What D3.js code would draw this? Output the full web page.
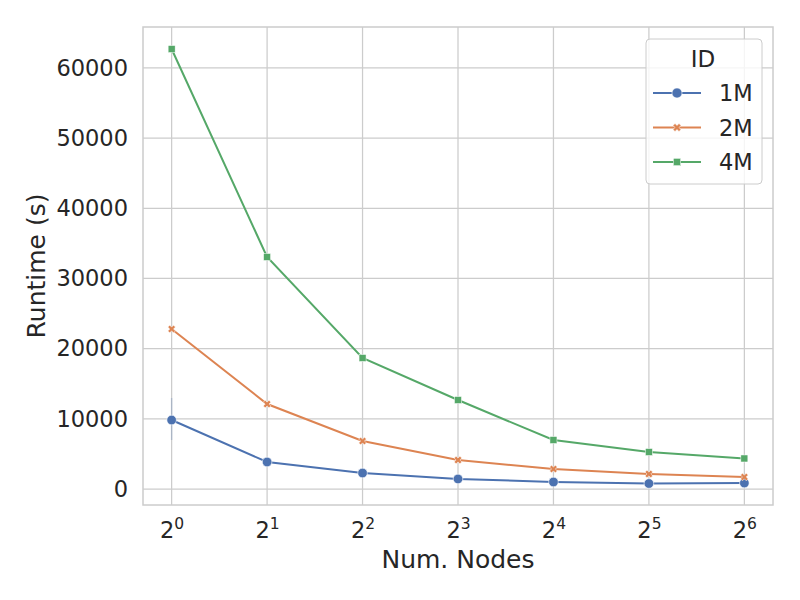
<!DOCTYPE html>
<html>
<head>
<meta charset="utf-8">
<script src="https://cdn.jsdelivr.net/npm/d3@7"></script>
<style>
  body { margin: 0; background: #fff; }
  text { font-family: "DejaVu Sans", sans-serif; fill: #262626; }
</style>
</head>
<body>
<div id="chart"></div>
<script>
// data
const exponents = [0, 1, 2, 3, 4, 5, 6];
const seriesNames = ["1M", "2M", "4M"];
const runtime1M = [9830, 3850, 2280, 1430, 1000, 780, 850];
const runtime2M = [22800, 12110, 6840, 4130, 2850, 2140, 1710];
const runtime4M = [62700, 33060, 18670, 12680, 6980, 5270, 4350];
// error bar on 1M at 2^0 (others too small to see)
const err1MLow = [6980, 3850, 2280, 1430, 1000, 780, 850];
const err1MHigh = [12970, 3850, 2280, 1430, 1000, 780, 850];
const yTicks = [0, 10000, 20000, 30000, 40000, 50000, 60000];

const colors = ["#4c72b0", "#dd8452", "#55a868"];
const values = [runtime1M, runtime2M, runtime4M];

const W = 800, H = 600;
const margin = { TOP: 27, BOTTOM: 95, LEFT: 143, RIGHT: 27 };
const w = W - margin.LEFT - margin.RIGHT;
const h = H - margin.TOP - margin.BOTTOM;

const svg = d3.select("#chart").append("svg")
  .attr("width", W).attr("height", H);

const g = svg.append("g")
  .attr("transform", `translate(${margin.LEFT}, ${margin.TOP})`);

const x = d3.scaleLinear().domain([-0.3, 6.3]).range([0, w]);
const y = d3.scaleLinear().domain([-2280, 65840]).range([h, 0]);

//grid
g.selectAll(".xgrid").data(exponents).enter().append("line")
  .attr("x1", d => x(d)).attr("x2", d => x(d))
  .attr("y1", 0).attr("y2", h)
  .attr("stroke", "#cccccc").attr("stroke-width", 1.25);
g.selectAll(".ygrid").data(yTicks).enter().append("line")
  .attr("x1", 0).attr("x2", w)
  .attr("y1", d => y(d)).attr("y2", d => y(d))
  .attr("stroke", "#cccccc").attr("stroke-width", 1.25);

//frame
g.append("rect").attr("width", w).attr("height", h)
  .attr("fill", "none").attr("stroke", "#cccccc").attr("stroke-width", 1.5);

//axes text
const yAxis = g.append("g").call(d3.axisLeft(y).tickValues(yTicks).tickSize(0).tickPadding(15).tickFormat(d3.format("d")));
yAxis.select(".domain").remove();
yAxis.selectAll("text").style("font-size", "22.5px").attr("fill", "#262626")
  .style("font-family", "DejaVu Sans");

const xAxis = g.append("g").attr("transform", `translate(0, ${h})`)
  .call(d3.axisBottom(x).tickValues(exponents).tickSize(0).tickPadding(14).tickFormat(""));
xAxis.select(".domain").remove();
xAxis.selectAll(".tick").each(function(d) {
  const t = d3.select(this).append("text")
    .attr("y", 33).attr("text-anchor", "middle")
    .style("font-size", "22.5px");
  t.append("tspan").text("2");
  t.append("tspan").attr("dy", -9.5).style("font-size", "15.5px").text(d);
});

svg.append("text")
  .attr("x", margin.LEFT + w / 2).attr("y", 568)
  .attr("text-anchor", "middle").style("font-size", "25px")
  .text("Num. Nodes");
svg.append("text")
  .attr("transform", `translate(45, ${margin.TOP + h / 2}) rotate(-90)`)
  .attr("text-anchor", "middle").style("font-size", "25px")
  .text("Runtime (s)");

//error bar
g.selectAll(".err").data(exponents.filter((d, i) => err1MHigh[i] - err1MLow[i] > 100))
  .enter().append("line")
  .attr("x1", d => x(d)).attr("x2", d => x(d))
  .attr("y1", d => y(err1MLow[exponents.indexOf(d)]))
  .attr("y2", d => y(err1MHigh[exponents.indexOf(d)]))
  .attr("stroke", colors[0]).attr("stroke-width", 1.5).attr("opacity", 0.25);

//lines
const line = d3.line().x((d, i) => x(exponents[i])).y(d => y(d));
values.forEach((vals, k) => {
  g.append("path").datum(vals)
    .attr("d", line)
    .attr("fill", "none").attr("stroke", colors[k]).attr("stroke-width", 2);
});

//markers
function marker(sel, k, scale) {
  if (k === 0) {
    sel.append("circle").attr("r", 4.8 * scale)
      .attr("fill", colors[0]).attr("stroke", "#fff").attr("stroke-width", 0.6);
  } else if (k === 1) {
    sel.append("path").attr("d", d3.symbol(d3.symbolCross, 36 * scale * scale)())
      .attr("transform", "rotate(45)")
      .attr("fill", colors[1]).attr("stroke", "#fff").attr("stroke-width", 0.5);
  } else {
    sel.append("rect").attr("x", -3.5 * scale).attr("y", -3.5 * scale)
      .attr("width", 7 * scale).attr("height", 7 * scale)
      .attr("fill", colors[2]).attr("stroke", "#fff").attr("stroke-width", 0.5);
  }
}
values.forEach((vals, k) => {
  g.selectAll(".m" + k).data(vals).enter().append("g")
    .attr("transform", (d, i) => `translate(${x(exponents[i])}, ${y(d)})`)
    .each(function() { marker(d3.select(this), k, 1); });
});

//legend
const lg = svg.append("g").attr("transform", "translate(646, 39)");
lg.append("rect").attr("width", 116).attr("height", 145).attr("rx", 4)
  .attr("fill", "#fff").attr("fill-opacity", 0.8)
  .attr("stroke", "#cccccc").attr("stroke-width", 1);
lg.append("text").attr("x", 57).attr("y", 28).attr("text-anchor", "middle")
  .style("font-size", "23px").text("ID");
seriesNames.forEach((name, k) => {
  const row = lg.append("g").attr("transform", `translate(0, ${54 + k * 34.5})`);
  row.append("line").attr("x1", 7).attr("x2", 55)
    .attr("stroke", colors[k]).attr("stroke-width", 2);
  const m = row.append("g").attr("transform", "translate(31, 0)");
  marker(m, k, 1.05);
  row.append("text").attr("x", 73).attr("y", 8).style("font-size", "22.5px").text(name);
});
</script>
</body>
</html>
